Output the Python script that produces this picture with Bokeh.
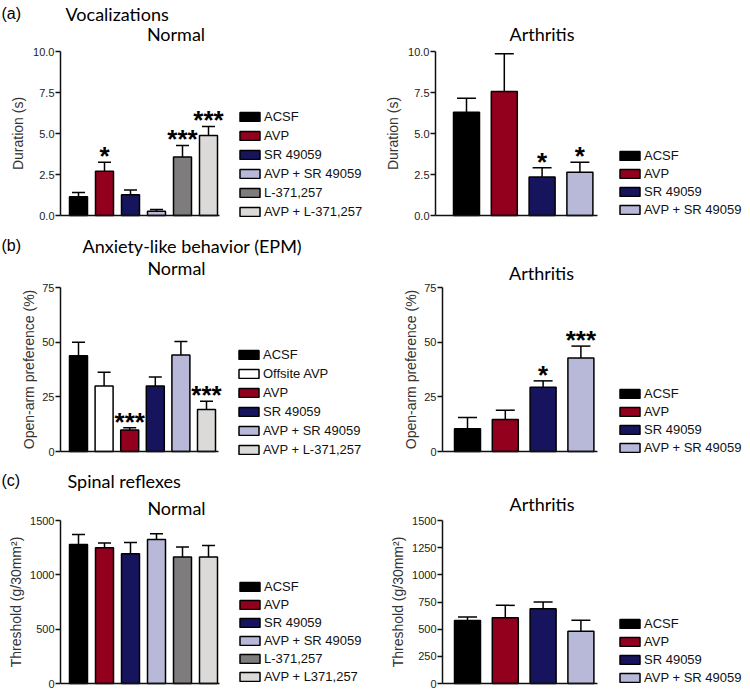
from bokeh.plotting import figure
from bokeh.models import (Range1d, FixedTicker, NumeralTickFormatter, BasicTickFormatter,
                          ColumnDataSource, Whisker, TeeHead, Legend, LegendItem, Label,
                          LinearAxis)
from bokeh.layouts import column, row
from bokeh.core.properties import value
from bokeh.embed import file_html
from bokeh.resources import INLINE

# ---------------- data ----------------
COLOR = {
    "ACSF": "#000000",
    "Offsite AVP": "#FFFFFF",
    "AVP": "#93001E",
    "SR 49059": "#16145C",
    "AVP + SR 49059": "#B8B9D9",
    "L-371,257": "#7E7C7C",
    "AVP + L-371,257": "#DCDAD8",
    "AVP + L371,257": "#DCDAD8",
}

voc_normal_groups = ["ACSF", "AVP", "SR 49059", "AVP + SR 49059", "L-371,257", "AVP + L-371,257"]
voc_normal_mean = [1.15, 2.70, 1.27, 0.26, 3.56, 4.88]
voc_normal_err = [0.25, 0.55, 0.29, 0.11, 0.71, 0.55]
voc_normal_sig = ["", "*", "", "", "***", "***"]

voc_arth_groups = ["ACSF", "AVP", "SR 49059", "AVP + SR 49059"]
voc_arth_mean = [6.30, 7.56, 2.34, 2.64]
voc_arth_err = [0.85, 2.30, 0.57, 0.61]
voc_arth_sig = ["", "", "*", "*"]

epm_normal_groups = ["ACSF", "Offsite AVP", "AVP", "SR 49059", "AVP + SR 49059", "AVP + L-371,257"]
epm_normal_mean = [43.8, 29.9, 9.8, 30.0, 44.1, 19.2]
epm_normal_err = [6.2, 6.3, 1.1, 4.1, 6.2, 3.8]
epm_normal_sig = ["", "", "***", "", "", "***"]

epm_arth_groups = ["ACSF", "AVP", "SR 49059", "AVP + SR 49059"]
epm_arth_mean = [10.4, 14.6, 29.4, 42.8]
epm_arth_err = [5.1, 4.3, 2.9, 5.4]
epm_arth_sig = ["", "", "*", "***"]

spinal_normal_groups = ["ACSF", "AVP", "SR 49059", "AVP + SR 49059", "L-371,257", "AVP + L371,257"]
spinal_normal_mean = [1280, 1249, 1194, 1325, 1163, 1163]
spinal_normal_err = [91, 43, 104, 53, 92, 107]
spinal_normal_sig = ["", "", "", "", "", ""]

spinal_arth_groups = ["ACSF", "AVP", "SR 49059", "AVP + SR 49059"]
spinal_arth_mean = [579, 606, 689, 481]
spinal_arth_err = [33, 113, 61, 101]
spinal_arth_sig = ["", "", "", ""]

voc_ticks = [0, 2.5, 5, 7.5, 10]
epm_ticks = [0, 25, 50, 75]
spinal_normal_ticks = [0, 500, 1000, 1500]
spinal_arth_ticks = [0, 250, 500, 750, 1000, 1250, 1500]

TITLE_FONT = "Lato"
ARIAL = "Liberation Sans"
AXIS_COLOR = "#111111"


def panel(fx, fy, fw, fh, L, R, T, B, ymax, ticks, fmt, ylabel, lab_standoff,
          groups, means, errs, sigs, x_first, pitch, bar_px, cap_px,
          leg_x, leg_row0, leg_step, texts):
    # pixel <-> data mapping so that the whole figure is the frame
    sy = (B - T) / ymax
    x0 = (fx - x_first) / pitch
    x1 = (fx + fw - x_first) / pitch
    y1 = (B - fy) / sy
    y0 = (B - fy - fh) / sy
    p = figure(width=fw, height=fh, x_range=Range1d(x0, x1), y_range=Range1d(y0, y1),
               output_backend="svg", toolbar_location=None, tools="",
               x_axis_type=None, y_axis_type=None, min_border=0)
    p.outline_line_color = None
    p.grid.visible = False

    xs = list(range(len(groups)))
    tops = [m + e for m, e in zip(means, errs)]
    src = ColumnDataSource(dict(x=xs, mean=means, top=tops, sig=sigs,
                                color=[COLOR[g] for g in groups], label=groups))

    wh = Whisker(base="x", lower="mean", upper="top", source=src,
                 line_color="black", line_width=1.5,
                 upper_head=TeeHead(size=cap_px, line_color="black", line_width=1.5),
                 lower_head=None)
    p.add_layout(wh)
    bars = p.vbar(x="x", top="mean", width=bar_px / pitch, bottom=0, source=src,
                  fill_color="color", line_color="black", line_width=1.5)
    p.text(x="x", y="top", text="sig", source=src, text_align="center",
           text_baseline="alphabetic", y_offset=-6, text_font=value(ARIAL),
           text_font_style="bold", text_font_size="26px", text_color="black")

    axis_x = (L - x_first) / pitch
    axis_xr = (R - x_first) / pitch

    ya = LinearAxis(fixed_location=axis_x, bounds=(0, ymax))
    ya.ticker = FixedTicker(ticks=ticks, minor_ticks=[])
    ya.formatter = fmt
    ya.major_tick_out = 5
    ya.major_tick_in = 0
    ya.minor_tick_out = 0
    ya.minor_tick_in = 0
    ya.major_label_standoff = 1
    ya.major_label_text_font = ARIAL
    ya.major_label_text_font_size = "11px"
    ya.major_label_text_color = "#222222"
    ya.axis_line_width = 1.5
    ya.axis_line_color = AXIS_COLOR
    ya.major_tick_line_width = 1.5
    ya.major_tick_line_color = AXIS_COLOR
    ya.axis_label = ylabel
    ya.axis_label_text_font = ARIAL
    ya.axis_label_text_font_size = "14px"
    ya.axis_label_text_font_style = "normal"
    ya.axis_label_text_color = "#333333"
    ya.axis_label_standoff = lab_standoff
    p.add_layout(ya, "left")

    xa = LinearAxis(fixed_location=0, bounds=(axis_x, axis_xr))
    xa.ticker = FixedTicker(ticks=[], minor_ticks=[])
    xa.major_tick_out = 0
    xa.major_tick_in = 0
    xa.minor_tick_out = 0
    xa.minor_tick_in = 0
    xa.major_label_standoff = 0
    xa.axis_line_width = 1.5
    xa.axis_line_color = AXIS_COLOR
    p.add_layout(xa, "below")

    # legend
    n = len(groups)
    items = [LegendItem(label=g, renderers=[bars], index=i) for i, g in enumerate(groups)]
    leg_top = leg_row0 - leg_step / 2.0
    leg_bottom = leg_top + n * leg_step
    legend = Legend(items=items, location=(leg_x - fx, fy + fh - leg_bottom),
                    glyph_width=25, glyph_height=11, label_standoff=2,
                    label_height=leg_step, spacing=0, padding=0, margin=0,
                    border_line_color=None, background_fill_alpha=0,
                    label_text_font=ARIAL, label_text_font_size="13px",
                    label_text_color="#111111")
    p.add_layout(legend)

    for (txt, tx, ty, size, font, align) in texts:
        p.add_layout(Label(x=tx - fx, y=fy + fh - ty, x_units="screen", y_units="screen",
                           text=txt, text_font=font, text_font_size=size,
                           text_align=align, text_baseline="middle", text_color="black"))
    return p


# figures: columns x 0..375 / 375..750 ; rows y 0..230 / 230..460 / 460..693
pa1 = panel(0, 0, 375, 230, 60, 219, 51, 215, 10, voc_ticks, NumeralTickFormatter(format="0.0"),
            "Duration (s)", 4,
            voc_normal_groups, voc_normal_mean, voc_normal_err, voc_normal_sig,
            78, 26, 18, 13, 237, 116.5, 19,
            [("(a)", 1, 13, "16px", ARIAL, "left"),
             ("Vocalizations", 65, 13, "18px", TITLE_FONT, "left"),
             ("Normal", 175.5, 33, "18px", TITLE_FONT, "center")])
pa2 = panel(375, 0, 375, 230, 435, 597, 51, 215, 10, voc_ticks, NumeralTickFormatter(format="0.0"),
            "Duration (s)", 4,
            voc_arth_groups, voc_arth_mean, voc_arth_err, voc_arth_sig,
            466, 37.8, 26, 19, 617, 155, 18,
            [("Arthritis", 541.5, 33, "18px", TITLE_FONT, "center")])

pb1 = panel(0, 230, 375, 230, 60, 218, 287, 451, 75, epm_ticks, BasicTickFormatter(),
            "Open-arm preference (%)", 2,
            epm_normal_groups, epm_normal_mean, epm_normal_err, epm_normal_sig,
            78, 25.6, 18, 13, 236, 354, 19,
            [("(b)", 1, 245, "16px", ARIAL, "left"),
             ("Anxiety-like behavior (EPM)", 82, 245, "18px", TITLE_FONT, "left"),
             ("Normal", 176, 267, "18px", TITLE_FONT, "center")])
pb2 = panel(375, 230, 375, 230, 442, 597, 287, 451, 75, epm_ticks, BasicTickFormatter(),
            "Open-arm preference (%)", 2,
            epm_arth_groups, epm_arth_mean, epm_arth_err, epm_arth_sig,
            467, 37.8, 26, 19, 617, 393, 18,
            [("Arthritis", 541, 272, "18px", TITLE_FONT, "center")])

pc1 = panel(0, 460, 375, 233, 60, 219, 520, 683, 1500, spinal_normal_ticks, BasicTickFormatter(),
            "Threshold (g/30mm\u00b2)", 3,
            spinal_normal_groups, spinal_normal_mean, spinal_normal_err, spinal_normal_sig,
            78, 26, 18, 13, 237, 586, 18,
            [("(c)", 1, 480, "16px", ARIAL, "left"),
             ("Spinal reflexes", 67, 480, "18px", TITLE_FONT, "left"),
             ("Normal", 176, 507, "18px", TITLE_FONT, "center")])
pc2 = panel(375, 460, 375, 233, 442, 597, 520, 683, 1500, spinal_arth_ticks, BasicTickFormatter(),
            "Threshold (g/30mm\u00b2)", 3,
            spinal_arth_groups, spinal_arth_mean, spinal_arth_err, spinal_arth_sig,
            467, 37.8, 26, 19, 617, 623, 18,
            [("Arthritis", 541.5, 503, "18px", TITLE_FONT, "center")])

layout = column(row(pa1, pa2), row(pb1, pb2), row(pc1, pc2))

open("out.html", "w").write(file_html(layout, INLINE))
